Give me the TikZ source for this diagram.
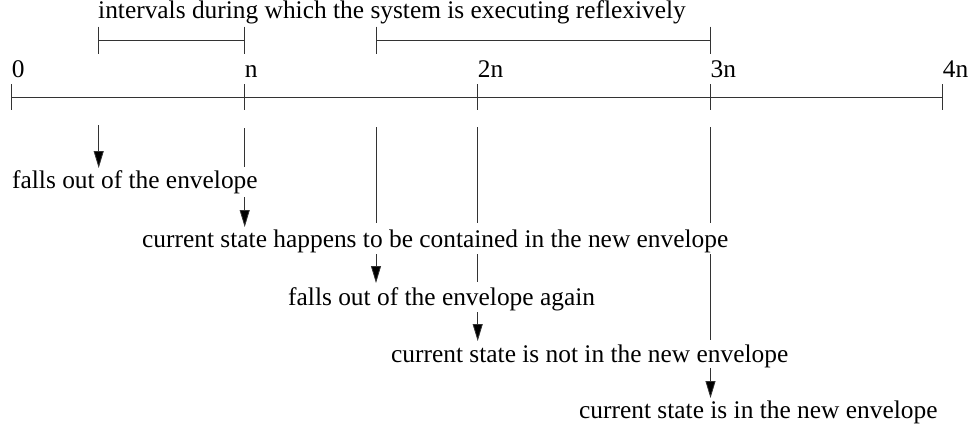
\documentclass[tikz,border=0pt]{standalone}
\usepackage{fontspec}
\setmainfont{Liberation Serif}
\usetikzlibrary{arrows.meta}
\begin{document}
\begin{tikzpicture}[x=1pt,y=-1pt,
  ln/.style={line width=0.8pt, draw=black!80},
  arr/.style={ln, -{Triangle[length=17pt,width=10pt,fill=black]}},
  lbl/.style={anchor=base west, inner sep=0pt, font=\fontsize{25.4}{28}\selectfont}]
\useasboundingbox (0,0) rectangle (974,429);
% axis
\coordinate (a0) at (11.7,97);
\coordinate (a1) at (244.7,97);
\coordinate (a2) at (477.7,97);
\coordinate (a3) at (710.5,97);
\coordinate (a4) at (942.7,97);
\draw[ln] (a0) -- (a4);
\foreach \p in {a0,a1,a2,a3,a4}
  \draw[ln] ([yshift=13pt]\p) -- ([yshift=-13pt]\p);
\node[lbl] (l0) at (11.7,77) {0};
\node[lbl] (l1) at (244.7,77) {n};
\node[lbl] (l2) at (477.7,77) {2n};
\node[lbl] (l3) at (710.5,77) {3n};
\node[lbl] (l4) at (942.7,77) {4n};
% intervals
\node[lbl] (title) at (98,18) {intervals during which the system is executing reflexively};
\coordinate (i1l) at (98.7,40);
\coordinate (i1r) at (244.7,40);
\coordinate (i2l) at (376,40);
\coordinate (i2r) at (710.5,40);
\draw[ln] (i1l) -- (i1r);
\draw[ln] (i2l) -- (i2r);
\foreach \p in {i1l,i1r,i2l,i2r}
  \draw[ln] ([yshift=13.5pt]\p) -- ([yshift=-13.5pt]\p);
% event texts
\node[lbl] (e1) at (12,188) {falls out of the envelope};
\node[lbl] (e2) at (142,247) {current state happens to be contained in the new envelope};
\node[lbl] (e3) at (288,305) {falls out of the envelope again};
\node[lbl] (e4) at (391,362) {current state is not in the new envelope};
\node[lbl] (e5) at (579,418) {current state is in the new envelope};
% vertical connectors
\coordinate (p1s) at (98.7,125);  \coordinate (p1e) at (98.7,168);
\draw[arr] (p1s) -- (p1e);
\coordinate (p2s) at (244.7,128); \coordinate (p2m) at (244.7,167);
\coordinate (p2n) at (244.7,197); \coordinate (p2e) at (244.7,227);
\draw[ln] (p2s) -- (p2m);
\draw[arr] (p2n) -- (p2e);
\coordinate (p3s) at (376,127); \coordinate (p3m) at (376,223);
\coordinate (p3n) at (376,254); \coordinate (p3e) at (376,283);
\draw[ln] (p3s) -- (p3m);
\draw[arr] (p3n) -- (p3e);
\coordinate (p4s) at (477.7,127); \coordinate (p4m) at (477.7,223);
\coordinate (p4n) at (477.7,254); \coordinate (p4o) at (477.7,282);
\coordinate (p4q) at (477.7,312); \coordinate (p4e) at (477.7,341);
\draw[ln] (p4s) -- (p4m);
\draw[ln] (p4n) -- (p4o);
\draw[arr] (p4q) -- (p4e);
\coordinate (p5s) at (710.5,127); \coordinate (p5m) at (710.5,223);
\coordinate (p5n) at (710.5,254); \coordinate (p5o) at (710.5,340);
\coordinate (p5q) at (710.5,368); \coordinate (p5e) at (710.5,398);
\draw[ln] (p5s) -- (p5m);
\draw[ln] (p5n) -- (p5o);
\draw[arr] (p5q) -- (p5e);
\end{tikzpicture}
\end{document}
